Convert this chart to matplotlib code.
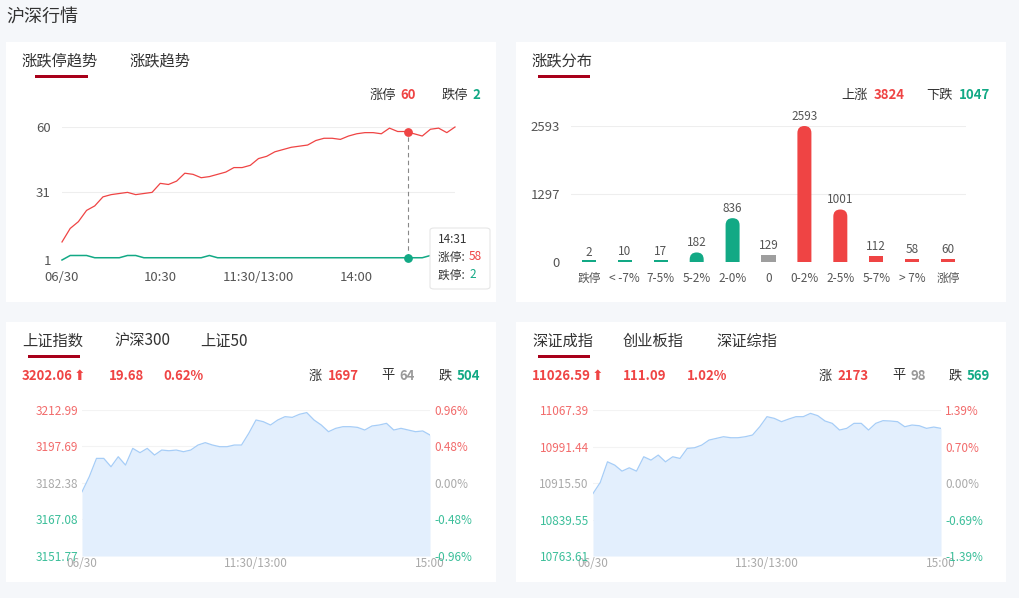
import matplotlib
matplotlib.use("Agg")
import matplotlib.pyplot as plt
from matplotlib.patches import FancyBboxPatch, Rectangle
import numpy as np

plt.rcParams['font.family'] = ['Noto Sans CJK SC', 'DejaVu Sans']

W, H = 1019, 598
RED = '#ef4444'; GREEN = '#12a985'; GREY = '#999999'; DARK = '#333333'
LRED = '#f26b6b'; LGREEN = '#3cbf9a'

# ---------------- data ----------------
minutes5 = list(range(0, 241, 5))
limit_up = [9, 15, 18, 23, 25, 29, 30, 30.5, 31, 30, 30.5, 31, 35, 34.5, 36, 39.5, 39, 37.5, 38, 39,
            40, 42, 42, 43, 46, 47, 49, 50, 51, 51.5, 52, 54, 55, 55, 54.5, 56, 57, 57.5, 57.5, 57,
            59.5, 58, 58, 57, 56, 59, 59.5, 57.5, 60]
limit_down = [1, 3, 3, 3, 2, 2, 2, 2, 3, 3, 2, 2, 2, 2, 2, 2, 2, 2, 3, 2,
              2, 2, 2, 2, 2, 2, 2, 2, 2, 2, 2, 2, 2, 2, 2, 2, 2, 2, 2, 2,
              2, 2, 2, 2, 2, 3, 3, 2, 2]
tip_minute, tip_up, tip_down, tip_label = 211, 58, 2, '14:31'
c1_yticks = [1, 31, 60]
c1_xticks = [0, 60, 120, 180]
c1_xlabels = ['06/30', '10:30', '11:30/13:00', '14:00']

dist_cats = ['跌停', '< -7%', '7-5%', '5-2%', '2-0%', '0', '0-2%', '2-5%', '5-7%', '> 7%', '涨停']
dist_vals = [2, 10, 17, 182, 836, 129, 2593, 1001, 112, 58, 60]
dist_cols = [GREEN] * 5 + ['#9e9e9e'] + [RED] * 5
dist_yticks = [0, 1297, 2593]

sh_vals = [3178.7, 3185, 3192.7, 3192.7, 3189.2, 3193.4, 3189.9, 3196.9, 3195.1, 3196.9, 3194.1, 3196.2,
           3195.9, 3196.2, 3195.5, 3196.2, 3198.3, 3199.3, 3198.3, 3197.6, 3197.6, 3198.3, 3198.3, 3203.2,
           3208.8, 3208.1, 3206.7, 3208.8, 3210.2, 3209.9, 3211.2, 3211.9, 3208.8, 3206.7, 3203.9, 3205.3,
           3206.0, 3206.0, 3205.7, 3204.6, 3206.3, 3206.7, 3207.4, 3204.6, 3205.3, 3204.6, 3203.9, 3204.2, 3202.5]
sh_ticks = [3151.77, 3167.08, 3182.38, 3197.69, 3212.99]
sh_pct = ['-0.96%', '-0.48%', '0.00%', '0.48%', '0.96%']

sz_vals = [10893.6, 10916.6, 10959.6, 10952.7, 10940.2, 10947.1, 10940.2, 10970.1, 10963.1, 10973.6,
           10959.6, 10970.1, 10966.6, 10987.5, 10988.8, 10994.4, 11004.8, 11008.3, 11011.8, 11009.7,
           11009.7, 11011.8, 11015.3, 11032.6, 11053.5, 11050.0, 11043.1, 11048.6, 11053.5, 11053.5,
           11060.4, 11055.6, 11044.5, 11039.6, 11025.7, 11029.2, 11039.6, 11039.6, 11025.7, 11039.6,
           11045.2, 11044.5, 11043.1, 11032.6, 11036.1, 11034.7, 11029.2, 11031.9, 11029.2]
sz_ticks = [10763.61, 10839.55, 10915.50, 10991.44, 11067.39]
sz_pct = ['-1.39%', '-0.69%', '0.00%', '0.70%', '1.39%']
idx_xticks = [0, 120, 240]
idx_xlabels = ['06/30', '11:30/13:00', '15:00']

# ---------------- helpers ----------------
fig = plt.figure(figsize=(W / 100, H / 100), dpi=100)
fig.patch.set_facecolor('#f5f7fa')

def axpx(x0, y0, x1, y1):
    a = fig.add_axes([x0 / W, 1 - y1 / H, (x1 - x0) / W, (y1 - y0) / H])
    a.set_zorder(2)
    return a

def t(x, y, s, **kw):
    kw.setdefault('va', 'center')
    kw.setdefault('color', DARK)
    kw.setdefault('zorder', 3)
    return fig.text(x / W, 1 - y / H, s, **kw)

def panel(x0, y0, x1, y1):
    fig.patches.append(Rectangle((x0 / W, 1 - y1 / H), (x1 - x0) / W, (y1 - y0) / H,
                                 transform=fig.transFigure, facecolor='white', edgecolor='none', zorder=-5))

def underline(x0, x1, y):
    fig.patches.append(Rectangle((x0 / W, 1 - (y + 1.5) / H), (x1 - x0) / W, 3 / H,
                                 transform=fig.transFigure, facecolor='#a8001a', edgecolor='none', zorder=1))

def pair(xend, y, label, val, col):
    t(xend, y, val, ha='right', color=col, fontsize=9.5, fontweight='bold')
    t(xend - 8.5 * len(val) - 3, y, label, ha='right', fontsize=9.5)

t(6, 18, '沪深行情', fontsize=13)
for p in [(6, 42, 496, 302), (516, 42, 1006, 302), (6, 322, 496, 582), (516, 322, 1006, 582)]:
    panel(*p)

# ---------------- chart 1 ----------------
t(22, 61, '涨跌停趋势', fontsize=11)
t(130, 61, '涨跌趋势', fontsize=11)
underline(35, 88, 76)
pair(416, 95, '涨停', '60', RED)
pair(480, 95, '跌停', '2', GREEN)
ax = axpx(62, 127, 455, 260)
ax.set_xlim(0, 240); ax.set_ylim(1, 60)
ax.plot(minutes5, limit_up, color=RED, lw=0.9, clip_on=False)
ax.plot(minutes5, limit_down, color=GREEN, lw=1.1, clip_on=False)
for v in c1_yticks:
    ax.axhline(v, color='#eeeeee', lw=0.8, zorder=0)
ax.set_yticks(c1_yticks); ax.set_xticks(c1_xticks); ax.set_xticklabels(c1_xlabels)
ax.tick_params(length=0, labelsize=9.5, labelcolor='#555555', pad=8)
for s in ax.spines.values(): s.set_visible(False)
ax.set_facecolor('none')
ax.plot([tip_minute, tip_minute], [tip_down, tip_up], color='#888888', lw=0.8, ls=(0, (4, 3)))
ax.scatter([tip_minute], [tip_up], color=RED, s=28, zorder=5, clip_on=False)
ax.scatter([tip_minute], [tip_down], color=GREEN, s=28, zorder=5, clip_on=False)
fig.patches.append(FancyBboxPatch((430 / W, 1 - 289 / H), 60 / W, 61 / H, boxstyle='round,pad=0,rounding_size=0.004',
                                  transform=fig.transFigure, facecolor='white', edgecolor='#e6e6e6', lw=0.8, zorder=6))
t(438, 239, tip_label, fontsize=8.5, zorder=7)
t(438, 257, '涨停: ', fontsize=8.5, zorder=7)
t(469, 257, str(tip_up), fontsize=8.5, color=RED, zorder=7)
t(438, 275, '跌停: ', fontsize=8.5, zorder=7)
t(469, 275, str(tip_down), fontsize=8.5, color=GREEN, zorder=7)

# ---------------- chart 2 ----------------
t(532, 61, '涨跌分布', fontsize=11)
underline(538, 590, 76)
pair(905, 95, '上涨', '3824', RED)
pair(990, 95, '下跌', '1047', GREEN)
ax2 = axpx(571, 126, 966, 262)
n = len(dist_vals)
ax2.set_xlim(-0.5, n - 0.5); ax2.set_ylim(0, dist_yticks[-1])
for v in dist_yticks[1:]:
    ax2.axhline(v, color='#eeeeee', lw=0.8, zorder=0)
w = 0.39
ppx_x = n / 395.0
ppx_y = dist_yticks[-1] / 136.0
r = w / 2
asp = ppx_y / ppx_x
for i, (v, c) in enumerate(zip(dist_vals, dist_cols)):
    ry = r * asp
    if v < ry:
        box = Rectangle((i - w / 2, 0), w, max(v, 30), facecolor=c, edgecolor='none')
    else:
        box = FancyBboxPatch((i - w / 2, -ry), w, v + ry, boxstyle=f'round,pad=0,rounding_size={r}',
                             mutation_aspect=asp, facecolor=c, edgecolor='none')
    ax2.add_patch(box)
    ax2.text(i, v + 60, str(v), ha='center', va='bottom', fontsize=8.5, color='#555555', clip_on=False)
ax2.set_xticks(range(n)); ax2.set_xticklabels(dist_cats)
ax2.set_yticks(dist_yticks)
ax2.tick_params(length=0, labelsize=8.5, labelcolor='#555555', pad=7)
ax2.tick_params(axis='y', labelsize=9.5, pad=8)
for s in ax2.spines.values(): s.set_visible(False)
ax2.set_facecolor('none')

# ---------------- index charts ----------------
def index_chart(x0, x1, vals, ticks, pct):
    a = axpx(x0, 410, x1, 556)
    a.set_xlim(0, 240); a.set_ylim(ticks[0], ticks[-1])
    a.fill_between(minutes5, vals, ticks[0], color='#e3effd', lw=0)
    a.plot(minutes5, vals, color='#a6cdf7', lw=0.9)
    for v in ticks[1:]:
        a.axhline(v, color='#f3f3f3', lw=0.8, zorder=0)
    cols = [LGREEN, LGREEN, '#aaaaaa', LRED, LRED]
    a.set_yticks(ticks); a.set_yticklabels([f'{v:.2f}' for v in ticks])
    for lab, c in zip(a.get_yticklabels(), cols): lab.set_color(c)
    a.set_xticks(idx_xticks); a.set_xticklabels(idx_xlabels)
    a.tick_params(length=0, labelsize=8.5, pad=3)
    a.tick_params(axis='x', labelcolor='#aaaaaa', pad=1)
    b = a.twinx(); b.set_ylim(ticks[0], ticks[-1]); b.set_yticks(ticks); b.set_yticklabels(pct)
    for lab, c in zip(b.get_yticklabels(), cols): lab.set_color(c)
    b.tick_params(length=0, labelsize=8.5, pad=3)
    for ax_ in (a, b):
        for s in ax_.spines.values(): s.set_visible(False)
    a.set_facecolor('none')

t(22, 341, '上证指数', fontsize=11); t(114, 341, '沪深300', fontsize=11); t(200, 341, '上证50', fontsize=11)
underline(28, 80, 356)
t(22, 376, '3202.06', color=RED, fontsize=9.5, fontweight='bold', ha='left')
t(74, 376, '⬆', color=RED, fontsize=10, ha='left', family='DejaVu Sans')
t(109, 376, '19.68', color=RED, fontsize=9.5, fontweight='bold', ha='left')
t(163, 376, '0.62%', color=RED, fontsize=9.5, fontweight='bold', ha='left')
pair(359, 376, '涨', '1697', RED); pair(415, 376, '平', '64', GREY); pair(480, 376, '跌', '504', GREEN)
index_chart(82, 430, sh_vals, sh_ticks, sh_pct)

t(532, 341, '深证成指', fontsize=11); t(623, 341, '创业板指', fontsize=11); t(716, 341, '深证综指', fontsize=11)
underline(538, 590, 356)
t(532, 376, '11026.59', color=RED, fontsize=9.5, fontweight='bold', ha='left')
t(592, 376, '⬆', color=RED, fontsize=10, ha='left', family='DejaVu Sans')
t(623, 376, '111.09', color=RED, fontsize=9.5, fontweight='bold', ha='left')
t(687, 376, '1.02%', color=RED, fontsize=9.5, fontweight='bold', ha='left')
pair(869, 376, '涨', '2173', RED); pair(926, 376, '平', '98', GREY); pair(990, 376, '跌', '569', GREEN)
index_chart(593, 941, sz_vals, sz_ticks, sz_pct)

fig.savefig('out.png', dpi=100, facecolor=fig.get_facecolor())
